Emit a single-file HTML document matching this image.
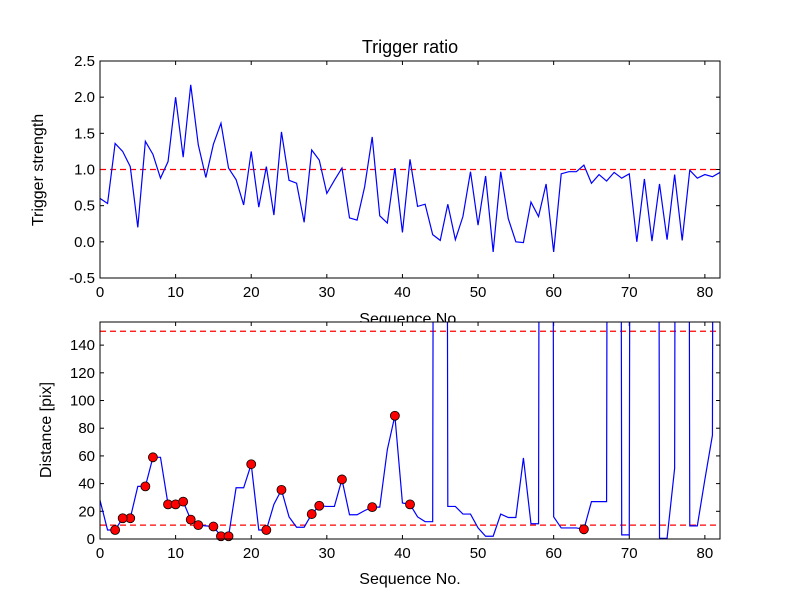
<!DOCTYPE html>
<html><head><meta charset="utf-8"><style>
body{margin:0;background:#fff}
svg{display:block;font-family:"Liberation Sans","DejaVu Sans",sans-serif}
</style></head><body>
<svg id="chart" width="800" height="600" viewBox="0 0 800 600">
<defs>
<clipPath id="c1"><rect x="100" y="61" width="620" height="217"/></clipPath>
<clipPath id="c2"><rect x="100" y="322" width="620" height="217"/></clipPath>
</defs>
<rect width="800" height="600" fill="#fff"/>
<g id="g"></g>
</svg>
<script>
const triggerValues=[0.60,0.53,1.36,1.25,1.04,0.20,1.39,1.21,0.88,1.11,2.0,1.17,2.17,1.34,0.89,1.35,1.64,1.02,0.86,0.51,1.25,0.48,1.04,0.37,1.52,0.85,0.81,0.27,1.27,1.13,0.67,0.85,1.02,0.33,0.30,0.76,1.45,0.36,0.26,1.02,0.13,1.14,0.49,0.52,0.10,0.02,0.52,0.03,0.35,0.97,0.23,0.91,-0.14,0.97,0.32,0.0,-0.01,0.55,0.35,0.80,-0.14,0.94,0.97,0.97,1.06,0.81,0.93,0.84,0.96,0.88,0.94,0.0,0.87,0.01,0.80,0.03,0.93,0.02,0.99,0.88,0.93,0.90,0.96];
const distanceValues=[28,6.5,6.5,15,15,38,38,59,59,25,25,27,14,10,9.5,9,2,2,37,37,54,6.5,6.5,25,35.5,16,8.5,8.5,18,24,23.5,23.5,43,17.5,17.5,20.5,23,23,64.5,89,26,25,16,12.5,12.5,3000,23.5,23.5,18,18,8,2,2,18,15.5,15.5,58.5,11,11,3000,16,8,8,8,7,27,27,27,3000,3,3,3000,3000,3000,0.5,0.5,51,3000,9.5,9.5,43,75,3000];
const markerIdx=[2,4,3,6,7,9,10,11,12,13,15,16,17,20,22,24,28,29,32,36,39,41,64];
const topTicks=[-0.5,0.0,0.5,1.0,1.5,2.0,2.5];
const botTicks=[0,20,40,60,80,100,120,140];
const xTicks=[0,10,20,30,40,50,60,70,80];
const triggerThreshold=[1.0];
const distThresholds=[10,150];

const NS="http://www.w3.org/2000/svg";
const g=document.getElementById('g');
function el(t,a,txt){const e=document.createElementNS(NS,t);for(const k in a)e.setAttribute(k,a[k]);if(txt!==undefined)e.textContent=txt;g.appendChild(e);return e;}
const X0=100,X1=720;
const xs=v=>X0+(v/82)*(X1-X0);
const y1=v=>278-(v+0.5)/3*217;
const y2=v=>539-v/156.7*217;

function axes(top,bot,yf,yt,fmt){
  el('rect',{x:X0,y:top,width:X1-X0,height:bot-top,fill:'#fff',stroke:'none'});
  for(const t of xTicks){const x=xs(t);
    let e=el('line',{x1:x,x2:x,y1:bot,y2:bot-4,stroke:'#000'});
    el('line',{x1:x,x2:x,y1:top,y2:top+4,stroke:'#000'});
    e=el('text',{x:x,y:bot+19,'font-size':15,'text-anchor':'middle'},String(t));}
  for(const t of yt){const y=yf(t);
    el('line',{x1:X0,x2:X0+4,y1:y,y2:y,stroke:'#000'});
    el('line',{x1:X1,x2:X1-4,y1:y,y2:y,stroke:'#000'});
    const e=el('text',{x:X0-5,y:y+5,'font-size':15,'text-anchor':'end'},fmt(t));}
}
axes(61,278,y1,topTicks,t=>t.toFixed(1));
for(const v of triggerThreshold){const e=el('line',{x1:X0,x2:X1,y1:y1(v),y2:y1(v),stroke:'#f00','stroke-dasharray':'6,4','stroke-width':1.2,'clip-path':'url(#c1)'});}
let p=el('polyline',{points:triggerValues.map((v,i)=>xs(i)+','+y1(v)).join(' '),fill:'none',stroke:'#00f','stroke-width':1.2,'clip-path':'url(#c1)'});

el('rect',{x:X0,y:61,width:620,height:217,fill:'none',stroke:'#000','stroke-width':1});
let t=el('text',{x:410,y:53,'font-size':18,'text-anchor':'middle'},'Trigger ratio');
t=el('text',{x:410,y:324,'font-size':16,'text-anchor':'middle'},'Sequence No.');
t=el('text',{x:0,y:0,'font-size':16,'text-anchor':'middle',transform:'translate(43,170) rotate(-90)'},'Trigger strength');
axes(322,539,y2,botTicks,t=>String(t));
for(const v of distThresholds){const e=el('line',{x1:X0,x2:X1,y1:y2(v),y2:y2(v),stroke:'#f00','stroke-dasharray':'6,4','stroke-width':1.2,'clip-path':'url(#c2)'});}
p=el('polyline',{points:distanceValues.map((v,i)=>xs(i)+','+y2(v)).join(' '),fill:'none',stroke:'#00f','stroke-width':1.2,'clip-path':'url(#c2)'});

for(const i of markerIdx){const c=el('circle',{cx:xs(i),cy:y2(distanceValues[i]),r:4.5,fill:'#f00',stroke:'#000','stroke-width':0.8});}
el('rect',{x:X0,y:322,width:620,height:217,fill:'none',stroke:'#000','stroke-width':1});
t=el('text',{x:410,y:584,'font-size':16,'text-anchor':'middle'},'Sequence No.');
t=el('text',{x:0,y:0,'font-size':16,'text-anchor':'middle',transform:'translate(51,430) rotate(-90)'},'Distance [pix]');
</script>
</body></html>
